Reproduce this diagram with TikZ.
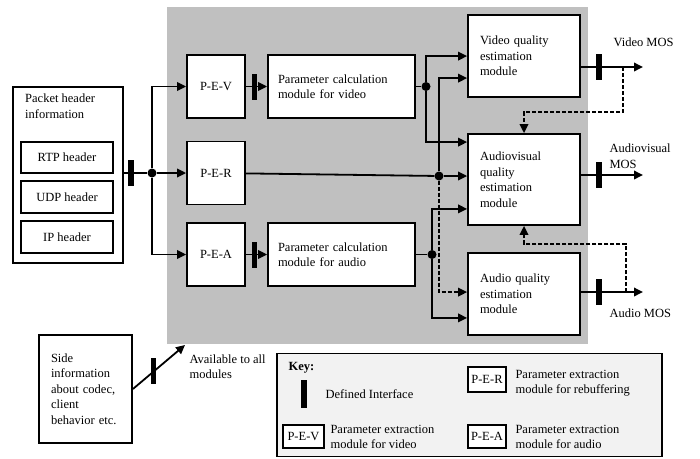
\documentclass[tikz,border=0pt]{standalone}
\usepackage{fontspec}
\setmainfont{Liberation Serif}
\usetikzlibrary{arrows.meta, positioning, calc}
\definecolor{areagray}{RGB}{192,192,192}
\definecolor{keygray}{RGB}{242,242,242}

\begin{document}
\begin{tikzpicture}[x=1pt, y=-1pt,
    font=\fontsize{12.5}{15.5}\selectfont,
    box/.style={draw, line width=1.8pt, fill=white, align=center},
    module/.style={box, align=left, inner xsep=13pt, text width=#1},
    iface/.style={fill=black, inner sep=0pt, minimum width=5.5pt, minimum height=26pt},
    junction/.style={circle, fill=black, inner sep=0pt, minimum size=9pt},
    wire/.style={line width=1.8pt},
    arrow/.style={-{Triangle[length=9pt, width=8.5pt]}, line width=1.8pt},
    dasharrow/.style={arrow, dash pattern=on 4pt off 2pt},
    note/.style={align=left, anchor=west}
]
    \useasboundingbox (0,0) rectangle (700,458);
    \fill[areagray] (167,7) rectangle (588,344);

    % Packet header
    \node[box, minimum width=110pt, minimum height=176pt] (pkt) at (68,175) {};
    \node[note, anchor=north west, inner sep=0pt] (pkttxt) at (25,94) {Packet header\\information};
    \node[box, minimum width=92pt, minimum height=31pt] (rtp) at (67,157.5) {RTP header};
    \node[box, minimum width=92pt, minimum height=32pt] (udp) at (67,197) {UDP header};
    \node[box, minimum width=92pt, minimum height=32pt] (ip) at (67,237) {IP header};

    % Extraction
    \node[iface] (barin) at (131,173) {};
    \node[junction] (split) at (152,173) {};
    \draw[wire] (pkt.east |- split) -- (split);
    \node[box, minimum width=58pt, minimum height=63pt] (pev) at (216,86.5) {P-E-V};
    \node[box, minimum width=58pt, minimum height=63pt] (per) at (216,173) {P-E-R};
    \node[box, minimum width=58pt, minimum height=63pt] (pea) at (216,254.5) {P-E-A};
    \draw[arrow] (split) |- (pev);
    \draw[arrow] (split) -- (per);
    \draw[arrow] (split) |- (pea);

    % Calculation
    \node[module=127pt, inner xsep=10pt, minimum height=63pt] (pcv) at (341.5,86.5) {Parameter calculation\\module for video};
    \node[module=127pt, inner xsep=10pt, minimum height=63pt] (pca) at (341.5,254.5) {Parameter calculation\\module for audio};
    \draw[arrow] (pev) -- node[iface, pos=0.4] (barv) {} (pcv);
    \draw[arrow] (pea) -- node[iface, pos=0.4] (bara) {} (pca);

    % Quality modules
    \node[module=88pt, inner xsep=12pt, minimum height=82pt] (vq) at (524,56) {Video quality\\estimation\\module};
    \node[module=88pt, inner xsep=12pt, minimum height=91pt] (av) at (524,179.5) {Audiovisual\\quality\\estimation\\module};
    \node[module=88pt, inner xsep=12pt, minimum height=82pt] (aq) at (524,294) {Audio quality\\estimation\\module};

    % Wiring
    \node[junction] (jv) at (426,86.5) {};
    \node[junction] (jr) at (439,176) {};
    \node[junction] (ja) at (432,254.5) {};
    \draw[wire] (pcv) -- (jv);
    \draw[wire] (per) -- (jr);
    \draw[wire] (pca) -- (ja);
    \draw[arrow] (jv) |- ($(vq.north west)+(0,42)$);
    \draw[arrow] (jv) |- ($(av.north west)+(0,9)$);
    \draw[arrow] (jr) |- ($(vq.north west)+(0,64)$);
    \draw[arrow] (jr) -- (jr -| av.west);
    \draw[dasharrow] (jr) |- ($(aq.north west)+(0,40)$);
    \draw[arrow] (ja) |- ($(av.south west)+(0,-17)$);
    \draw[arrow] (ja) |- ($(aq.south west)+(0,-18)$);

    % Outputs
    \coordinate (vqout) at (643,67);
    \coordinate (avout) at (643,175);
    \coordinate (aqout) at (643,292);
    \draw[arrow] (vq.east |- vqout) -- node[iface, pos=0.29] (barvq) {} coordinate[pos=0.68] (vqtap) (vqout);
    \draw[arrow] (av.east |- avout) -- node[iface, pos=0.29] (barav) {} (avout);
    \draw[arrow] (aq.east |- aqout) -- node[iface, pos=0.29] (baraq) {} coordinate[pos=0.73] (aqtap) (aqout);
    \draw[dasharrow] (vqtap) |- ($(av.north)+(0,-21)$) -- (av.north);
    \draw[dasharrow] (aqtap) |- ($(av.south)+(0,18)$) -- (av.south);
    \node[note] (vmos) at (610,42) {Video MOS};
    \node[note] (avmos) at (606,156) {Audiovisual\\MOS};
    \node[note] (amos) at (606,313) {Audio MOS};

    % Side information
    \node[module=69pt, inner xsep=12pt, minimum height=108pt] (side) at (85.5,389) {Side\\information\\about codec,\\client\\behavior etc.};
    \coordinate (avail) at (185,345);
    \draw[arrow] (side.east) -- node[iface, pos=0.4] (barside) {} (avail);
    \node[note, anchor=north west] (availtxt) at (186,351) {Available to all\\modules};

    % Key
    \node[draw, line width=1.8pt, fill=keygray, minimum width=385pt, minimum height=103pt] (key) at (469.5,405) {};
    \node[note, font=\fontsize{12.5}{15.5}\selectfont\bfseries] (keytitle) at (285,368) {Key:};
    \node[iface, minimum height=28pt] (keybar) at (304,394) {};
    \node[note] (keybartxt) at (322,394) {Defined Interface};
    \node[box, inner sep=1.5pt, minimum width=38pt, minimum height=25pt] (kper) at (487,379.5) {P-E-R};
    \node[note] (kpertxt) at (512,383) {Parameter extraction\\module for rebuffering};
    \node[box, inner sep=1.5pt, minimum width=41pt, minimum height=23pt] (kpev) at (303.5,436.5) {P-E-V};
    \node[note] (kpevtxt) at (327,437) {Parameter extraction\\module for video};
    \node[box, inner sep=1.5pt, minimum width=38pt, minimum height=23pt] (kpea) at (487,436.5) {P-E-A};
    \node[note] (kpeatxt) at (512,437) {Parameter extraction\\module for audio};
\end{tikzpicture}
\end{document}
